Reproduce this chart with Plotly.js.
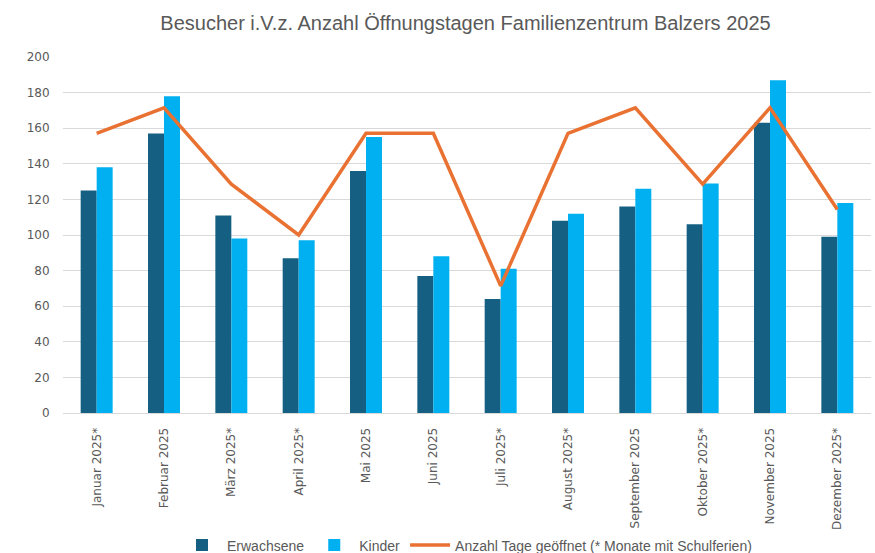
<!DOCTYPE html>
<html>
<head>
<meta charset="utf-8">
<script src="https://cdn.plot.ly/plotly-3.0.1.min.js"></script>
<style>html,body{margin:0;padding:0;background:#fff;}#chart{width:875px;height:553px;}</style>
</head>
<body>
<div id="chart"></div>
<script>
const months = ["Januar 2025*", "Februar 2025", "März 2025*", "April 2025*", "Mai 2025", "Juni 2025", "Juli 2025*", "August 2025*", "September 2025", "Oktober 2025*", "November 2025", "Dezember 2025*"];
const erwachsene = [125, 157, 111, 87, 136, 77, 64, 108, 116, 106, 163, 99];
const kinder = [138, 178, 98, 97, 155, 88, 81, 112, 126, 129, 187, 118];
const tageGeoeffnet = [11, 12, 9, 7, 11, 11, 5, 11, 12, 9, 12, 8];
const yTicks = [0, 20, 40, 60, 80, 100, 120, 140, 160, 180, 200];

const grey = "#595959";
const traces = [
  {type: "bar", name: "Erwachsene", x: months, y: erwachsene, marker: {color: "#156082"}},
  {type: "bar", name: "Kinder", x: months, y: kinder, marker: {color: "#00B0F0"}},
  {type: "scatter", mode: "lines", name: "Anzahl Tage geöffnet (* Monate mit Schulferien)", x: months, y: tageGeoeffnet, yaxis: "y2", line: {color: "#E97132", width: 3.5}}
];

const layout = {
  width: 875, height: 553,
  margin: {l: 63, r: 4, t: 57, b: 140, autoexpand: false},
  paper_bgcolor: "#fff", plot_bgcolor: "#fff",
  title: {text: "Besucher i.V.z. Anzahl Öffnungstagen Familienzentrum Balzers 2025", x: 0.532, xanchor: "center", y: 0.958, yanchor: "middle", font: {family: "Liberation Sans, Arial, sans-serif", size: 20, color: grey}},
  barmode: "group", bargap: 0.525, bargroupgap: 0,
  font: {family: "DejaVu Sans, sans-serif", color: grey, size: 12},
  xaxis: {type: "category", tickangle: -90, automargin: false, tickfont: {family: "DejaVu Sans, sans-serif", size: 12, color: grey}, showgrid: false, showline: true, linecolor: "#d9d9d9", linewidth: 1, ticks: "outside", ticklen: 9, tickcolor: "rgba(0,0,0,0)", fixedrange: true},
  yaxis: {range: [0, 200], tickvals: yTicks, automargin: false, showgrid: true, gridcolor: "#d9d9d9", gridwidth: 1, zeroline: false, showline: false, tickfont: {family: "DejaVu Sans, sans-serif", size: 12, color: grey}, ticks: "outside", ticklen: 10, tickcolor: "rgba(0,0,0,0)"},
  yaxis2: {overlaying: "y", side: "right", range: [0, 14], visible: false, showgrid: false},
  showlegend: true,
  legend: {orientation: "h", x: 0.5, xanchor: "center", y: -0.372, yanchor: "middle", font: {family: "Liberation Sans, Arial, sans-serif", size: 14, color: grey}, traceorder: "normal", itemwidth: 40}
};

Plotly.newPlot("chart", traces, layout, {staticPlot: true});
</script>
</body>
</html>
